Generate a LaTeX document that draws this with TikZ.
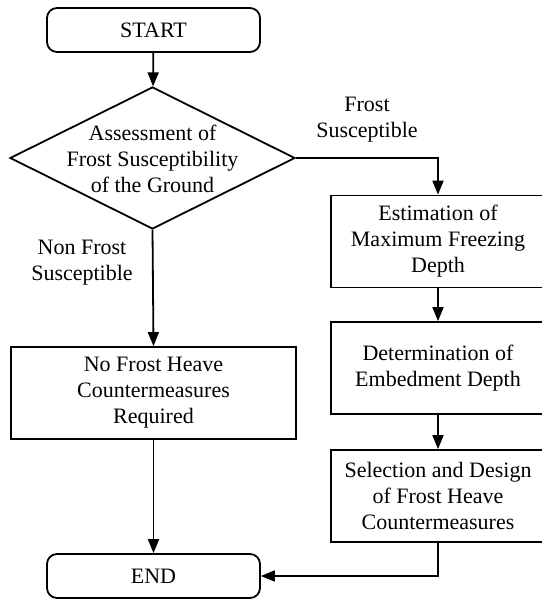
\documentclass[tikz,border=0pt]{standalone}
\usepackage{fontspec}
\setmainfont{Liberation Serif}
\usetikzlibrary{shapes.geometric,arrows.meta,positioning}

\begin{document}
\begin{tikzpicture}[
    x=0.5pt, y=-0.5pt,
    terminal/.style={draw=black, line width=0.9pt, rectangle, rounded corners=5pt, minimum width=106.5pt, minimum height=22pt, font=\fontsize{11}{13}\selectfont},
    process/.style={draw=black, line width=0.9pt, rectangle, minimum width=107pt, minimum height=46pt, align=center, font=\fontsize{11}{13}\selectfont},
    decision/.style={draw=black, line width=0.9pt, diamond, minimum width=142.5pt, minimum height=71pt, inner sep=0pt},
    note/.style={align=center, font=\fontsize{11}{13}\selectfont},
    flow/.style={-{Triangle[length=7pt,width=5.5pt]}, line width=0.9pt}
]

\useasboundingbox (0,0) rectangle (541,599);

% Terminals
\node[terminal] (start) at (153.5,30) {START};
\node[terminal] (end) at (153.5,576) {END};

% Decision
\node[decision] (assess) at (152.5,158) {};
\node[note] (assesstext) at (152.5,159) {Assessment of\\Frost Susceptibility\\of the Ground};

% Processes
\node[process, minimum width=142.5pt] (nofrost) at (153.5,393) {No Frost Heave\\Countermeasures\\Required};
\node[process] (estim) at (438,241.5) {Estimation of\\Maximum Freezing\\Depth};
\node[process] (determ) at (438,368) {Determination of\\Embedment Depth};
\node[process] (select) at (438,496) {Selection and Design\\of Frost Heave\\Countermeasures};

% Branch labels
\node[note] (yeslabel) at (367,120) {Frost\\Susceptible};
\node[note] (nolabel) at (82,263) {Non Frost\\Susceptible};

% Connectors
\draw[flow] (start) -- (assess);
\draw[flow] (assess.east) -| (estim.north);
\draw[flow] (estim) -- (determ);
\draw[flow] (determ) -- (select);
\draw[flow] (assess.south) -- (nofrost.north);
\draw[flow] (nofrost) -- (end);
\draw[flow] (select.south) |- (end.east);

\end{tikzpicture}
\end{document}
